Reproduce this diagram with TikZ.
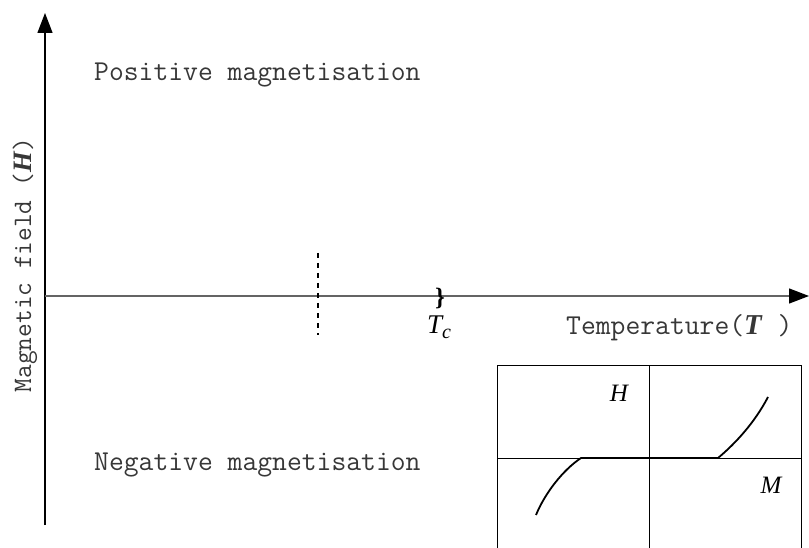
\documentclass[tikz,border=0pt]{standalone}
\usepackage{fontspec}
\setmainfont{Liberation Serif}
\usetikzlibrary{arrows.meta, positioning}
\definecolor{axiscolor}{RGB}{100,100,100}
\definecolor{labelcolor}{RGB}{55,55,55}

\begin{document}
\begin{tikzpicture}[
    x=1pt, y=-1pt,
    axis/.style={axiscolor, line width=1.3pt, -{Triangle[length=20pt, width=15pt, black]}},
    region/.style={anchor=west, inner sep=0pt, text=labelcolor, font=\fontsize{28.8}{32}\ttfamily},
    axislabel/.style={inner sep=0pt, text=labelcolor, font=\fontsize{26.6}{30}\ttfamily},
    mathlabel/.style={inner sep=0pt, font=\fontsize{25}{30}\selectfont\itshape},
    inset/.style={line width=1pt},
    curve/.style={line width=1.8pt}
]
    \useasboundingbox (0,0) rectangle (809,548);

    % Axes
    \coordinate (origin) at (45,296);
    \coordinate (ybottom) at (45,525);
    \coordinate (ytop) at (45,13);
    \coordinate (xend) at (809,296);
    \draw[axis, black] (ybottom) -- (ytop);
    \draw[axis] (origin) -- (xend);

    % Dashed marker
    \coordinate (dashtop) at (318,253);
    \coordinate (dashbottom) at (318,335);
    \draw[dashed, dash pattern=on 5pt off 5pt, line width=1.1pt] (dashtop) -- (dashbottom);

    % Critical temperature
    \node[inner sep=0pt, font=\fontsize{25}{28}\selectfont\bfseries] (brace) at (440,298) {\}};
    \node[mathlabel, below=7pt of brace, xshift=-1pt, font=\fontsize{27}{30}\selectfont\itshape] (tc) {T\raisebox{-0.4ex}{\fontsize{20}{22}\selectfont c}};

    % Labels
    \node[region] (pos) at (94,75) {Positive magnetisation};
    \node[region] (neg) at (94,465) {Negative magnetisation};
    \node[region] (temp) at (566,328) {Temperature(\textrm{\textit{\textbf{T}}} )};
    \node[axislabel, rotate=90] (field) at (25,265) {Magnetic field (\textrm{\textit{\textbf{H}}})};

    % Inset
    \coordinate (boxtl) at (497,365);
    \coordinate (boxbr) at (801,548);
    \coordinate (hmid) at (649,365);
    \coordinate (hbot) at (649,548);
    \coordinate (mleft) at (497,458);
    \coordinate (mright) at (801,458);
    \draw[inset] (boxtl |- boxbr) -- (boxtl) -- (boxtl -| boxbr) -- (boxbr);
    \draw[inset] (hmid) -- (hbot);
    \draw[inset] (mleft) -- (mright);
    \node[mathlabel] (hlabel) at (619,393) {H};
    \node[mathlabel] (mlabel) at (771,485) {M};

    % Magnetisation curve
    \coordinate (lowend) at (536,515);
    \coordinate (flatleft) at (581,458);
    \coordinate (flatright) at (718,458);
    \coordinate (highend) at (768,397);
    \draw[curve] (lowend) .. controls (545,493) and (563,470) .. (flatleft)
        -- (flatright) .. controls (736,443) and (755,422) .. (highend);
\end{tikzpicture}
\end{document}
